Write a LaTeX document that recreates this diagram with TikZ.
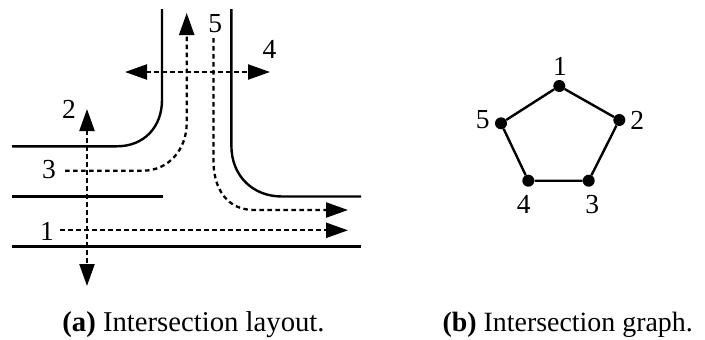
\documentclass[tikz,border=0pt]{standalone}
\usepackage{fontspec}
\setmainfont{Liberation Serif}
\usetikzlibrary{arrows.meta}
\tikzset{
  road/.style={line width=2.4pt},
  route/.style={line width=2.3pt,dash pattern=on 4.5pt off 3.5pt,-{Triangle[length=22pt,width=15pt]}},
  lbl/.style={font=\fontsize{27.5}{27.5}\selectfont,inner sep=0pt},
  capa/.style={font=\fontsize{28.7}{30}\selectfont,inner sep=0pt},
  capb/.style={font=\fontsize{27.9}{30}\selectfont,inner sep=0pt},
  vtx/.style={circle,fill=black,inner sep=0pt,minimum size=12pt},
  edgeline/.style={line width=2.4pt}
}
\begin{document}
\begin{tikzpicture}[x=1pt,y=-1pt]
\useasboundingbox (0,0) rectangle (705,340);
% roads
\draw[road] (162,9) -- (162,100) .. controls (162,127) and (144,146.3) .. (117,146.3) -- (12,146.3);
\draw[road] (231.4,9) -- (231.4,146) .. controls (231.4,175) and (252,196.5) .. (282,196.5) -- (361,196.5);
\draw[road] (12,196.5) -- (163,196.5);
\draw[road] (12,246.3) -- (361,246.3);
% route anchors
\coordinate (r1s) at (60,230.3); \coordinate (r1e) at (348,230.3);
\coordinate (r2s) at (87,109); \coordinate (r2e) at (87,286);
\coordinate (r3s) at (65,170.7); \coordinate (r3e) at (186.7,13);
\coordinate (r4s) at (125,72); \coordinate (r4e) at (270,72);
\coordinate (r5s) at (213.4,38); \coordinate (r5e) at (348,210);
% routes
\draw[route] (r1s) -- (r1e);
\draw[route,{Triangle[length=22pt,width=15pt]}-{Triangle[length=22pt,width=15pt]}] (r2s) -- (r2e);
\draw[route] (r3s) -- (143,170.7) .. controls (168,170.7) and (186.7,150) .. (186.7,123) -- (r3e);
\draw[route,{Triangle[length=22pt,width=15pt]}-{Triangle[length=22pt,width=15pt]}] (r4s) -- (r4e);
\draw[route] (r5s) -- (213.4,160) .. controls (213.4,190) and (228,210) .. (254,210) -- (r5e);
% route labels
\node[lbl] (l1) at (47,231) {1};
\node[lbl] (l2) at (69,109.5) {2};
\node[lbl] (l3) at (49,169.5) {3};
\node[lbl] (l4) at (269.5,49) {4};
\node[lbl] (l5) at (215.3,24) {5};
% graph
\node[vtx] (v1) at (559.3,86) {};
\node[vtx] (v2) at (619.3,120) {};
\node[vtx] (v3) at (588.7,180.7) {};
\node[vtx] (v4) at (528.3,180.7) {};
\node[vtx] (v5) at (501,123.3) {};
\draw[edgeline] (v1) -- (v2) -- (v3) -- (v4) -- (v5) -- (v1);
\node[lbl] (g1) at (560,66) {1};
\node[lbl] (g2) at (637.3,120) {2};
\node[lbl] (g3) at (592.3,204.5) {3};
\node[lbl] (g4) at (523.7,204.5) {4};
\node[lbl] (g5) at (482.7,120) {5};
% captions
\node[capa,anchor=base] (ca) at (193.5,331) {\textbf{(a)} Intersection layout.};
\node[capb,anchor=base] (cb) at (567.7,331) {\textbf{(b)} Intersection graph.};
\end{tikzpicture}
\end{document}
